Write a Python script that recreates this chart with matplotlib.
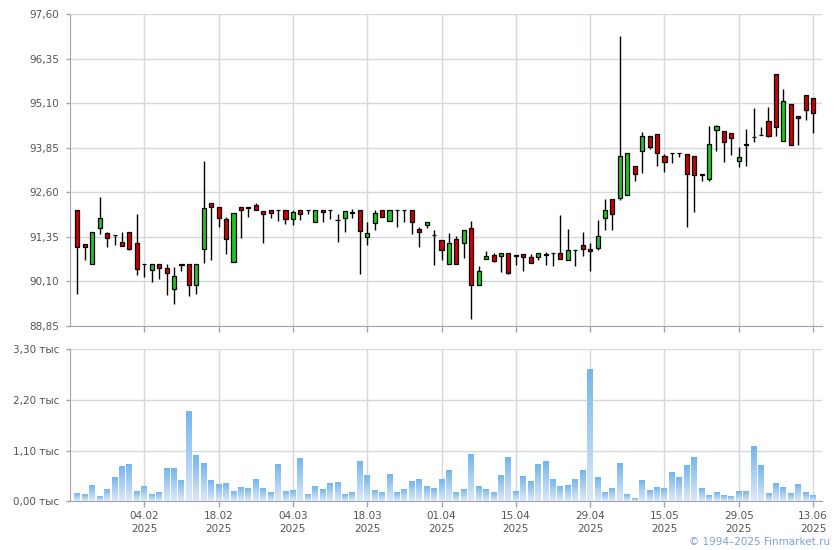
import numpy as np
import matplotlib
matplotlib.use('Agg')
import matplotlib.pyplot as plt
from matplotlib.colors import LinearSegmentedColormap

## Datos de las velas (por sesión)
apertura = [92.11, 91.14, 90.60, 91.60, 91.46, 91.41, 91.21, 91.49, 91.18, 90.60,
            90.43, 90.60, 90.49, 89.88, 90.60, 90.60, 90.01, 91.02, 92.30, 92.19,
            91.86, 90.65, 92.19, 92.19, 92.25, 92.08, 92.10, 92.10, 92.10, 91.86,
            92.10, 92.10, 91.77, 92.09, 92.10, 91.83, 91.87, 92.03, 92.09, 91.35,
            91.74, 92.10, 91.80, 92.10, 92.10, 92.10, 91.58, 91.69, 91.41, 91.27,
            90.60, 91.30, 91.18, 91.60, 90.01, 90.74, 90.85, 90.82, 90.90, 90.84,
            90.88, 90.79, 90.78, 90.87, 90.90, 90.90, 90.70, 90.99, 91.11, 91.02,
            91.03, 91.87, 92.42, 92.43, 92.53, 93.34, 93.76, 94.18, 94.23, 93.62,
            93.70, 93.70, 93.68, 93.62, 93.11, 92.98, 94.35, 94.32, 94.26, 93.48,
            93.95, 94.15, 94.21, 94.60, 95.91, 94.04, 95.07, 94.74, 95.33, 95.24]
maximo = [92.11, 91.14, 91.49, 92.47, 91.50, 91.41, 91.49, 91.49, 92.00, 90.60,
          90.60, 90.60, 90.60, 90.51, 90.60, 90.60, 90.60, 93.49, 92.30, 92.19,
          91.92, 92.02, 92.19, 92.19, 92.31, 92.08, 92.10, 92.10, 92.10, 92.10,
          92.10, 92.10, 92.10, 92.10, 92.10, 92.00, 92.08, 92.12, 92.10, 91.77,
          92.10, 92.10, 92.10, 92.10, 92.10, 92.10, 91.63, 91.77, 91.55, 91.27,
          91.47, 91.38, 91.55, 91.80, 90.54, 90.94, 90.90, 90.90, 90.90, 90.85,
          90.88, 90.86, 90.90, 90.93, 90.90, 91.95, 91.58, 90.99, 91.50, 91.18,
          91.81, 92.42, 92.42, 96.99, 93.70, 93.34, 94.30, 94.18, 94.23, 93.68,
          93.70, 93.70, 93.68, 93.62, 93.11, 94.47, 94.49, 94.32, 94.26, 93.88,
          94.37, 94.96, 94.43, 94.99, 95.91, 95.49, 95.07, 94.74, 95.33, 95.24]
minimo = [89.76, 90.69, 90.60, 91.42, 91.06, 91.12, 91.09, 90.97, 90.28, 90.22,
          90.08, 90.16, 89.73, 89.46, 90.39, 89.70, 89.76, 90.62, 90.71, 91.62,
          90.88, 90.65, 91.32, 91.90, 92.10, 91.17, 91.87, 91.79, 91.70, 91.68,
          91.82, 91.98, 91.77, 91.77, 91.86, 91.20, 91.48, 91.89, 90.30, 91.12,
          91.54, 91.91, 91.80, 91.63, 91.77, 91.44, 91.07, 91.60, 90.55, 90.70,
          90.60, 90.60, 90.75, 89.06, 90.01, 90.74, 90.64, 90.37, 90.32, 90.56,
          90.39, 90.62, 90.70, 90.56, 90.53, 90.72, 90.70, 90.53, 90.81, 90.40,
          90.98, 91.54, 91.54, 92.38, 92.53, 92.91, 93.14, 93.82, 93.33, 93.16,
          93.41, 93.58, 91.62, 92.04, 92.91, 92.91, 93.76, 93.45, 93.65, 93.31,
          93.34, 94.01, 94.20, 94.15, 94.18, 94.04, 93.93, 93.92, 94.64, 94.25]
cierre = [91.07, 91.07, 91.49, 91.89, 91.32, 91.40, 91.09, 91.00, 90.46, 90.59,
          90.60, 90.48, 90.34, 90.26, 90.57, 90.01, 90.60, 92.16, 92.19, 91.88,
          91.28, 92.02, 92.10, 92.17, 92.10, 91.98, 92.01, 92.09, 91.86, 92.05,
          91.98, 92.09, 92.10, 92.05, 92.09, 91.82, 92.08, 92.06, 91.51, 91.47,
          92.02, 91.91, 92.10, 92.09, 92.09, 91.77, 91.49, 91.77, 91.39, 90.98,
          91.19, 90.60, 91.55, 90.01, 90.40, 90.82, 90.67, 90.90, 90.34, 90.82,
          90.78, 90.62, 90.90, 90.85, 90.89, 90.72, 90.99, 90.98, 91.00, 90.95,
          91.38, 92.09, 92.00, 93.62, 93.70, 93.12, 94.18, 93.86, 93.70, 93.45,
          93.69, 93.69, 93.12, 93.09, 93.09, 93.95, 94.46, 94.01, 94.12, 93.59,
          93.94, 94.14, 94.20, 94.18, 94.43, 95.16, 93.93, 94.68, 94.91, 94.82]

## Volumen en miles
volumen = [0.16, 0.14, 0.33, 0.09, 0.25, 0.51, 0.75, 0.79, 0.20, 0.31,
           0.14, 0.18, 0.70, 0.70, 0.44, 1.94, 0.98, 0.81, 0.44, 0.35,
           0.38, 0.20, 0.29, 0.27, 0.46, 0.27, 0.18, 0.79, 0.20, 0.22,
           0.92, 0.14, 0.31, 0.25, 0.38, 0.40, 0.14, 0.18, 0.85, 0.55,
           0.22, 0.18, 0.57, 0.18, 0.25, 0.42, 0.46, 0.31, 0.27, 0.46,
           0.66, 0.18, 0.25, 1.01, 0.31, 0.25, 0.18, 0.55, 0.94, 0.20,
           0.53, 0.42, 0.79, 0.85, 0.46, 0.31, 0.33, 0.46, 0.66, 2.85,
           0.51, 0.18, 0.27, 0.81, 0.14, 0.06, 0.44, 0.22, 0.29, 0.27,
           0.62, 0.51, 0.77, 0.94, 0.27, 0.12, 0.18, 0.12, 0.09, 0.20,
           0.20, 1.18, 0.77, 0.16, 0.38, 0.29, 0.16, 0.35, 0.18, 0.12]

## Fechas marcadas en el eje (cada 10 sesiones)
sesion_fechas = [9, 19, 29, 39, 49, 59, 69, 79, 89, 99]
fechas = ['04.02', '18.02', '04.03', '18.03', '01.04',
          '15.04', '29.04', '15.05', '29.05', '13.06']
anio = '2025'

precios_eje = np.linspace(88.85, 97.60, 8)
vol_eje = [0.0, 1.1, 2.2, 3.3]

gris_grid = '#d3d8dc'
gris_eje = '#a3a3b5'
gris_txt = '#555555'

fig = plt.figure(figsize=(8.4, 5.5), dpi=100)
ax1 = fig.add_axes([70/840, 1-326/550, 752/840, 312/550])
ax2 = fig.add_axes([70/840, 1-501.3/550, 752/840, 152/550])

x = np.arange(len(cierre))
o = np.array(apertura)
c = np.array(cierre)

## Velas: mechas y cuerpos
ax1.vlines(x, minimo, maximo, color='k', lw=1, zorder=2)
colores = np.where(c >= o, '#1ec81e', '#d40000')
alto = np.maximum(np.abs(c - o), 0.004)
ax1.bar(x, alto, bottom=np.minimum(o, c), width=0.55, color=colores,
        edgecolor='k', linewidth=0.9, zorder=3)

ax1.set_xlim(-1.0, 100.2)
ax1.set_ylim(88.85, 97.60)
ax1.set_yticks(precios_eje)
ax1.set_yticklabels([f'{v:.2f}'.replace('.', ',') for v in precios_eje])
ax1.set_xticks(sesion_fechas)
ax1.set_xticklabels([])

## Volumen con degradado
cmap = LinearSegmentedColormap.from_list('vol', ['#dde9f8', '#74b6ee'])
grad = np.linspace(0, 1, 64).reshape(-1, 1)
for i, v in enumerate(volumen):
    ax2.imshow(grad, extent=[i - 0.4, i + 0.4, 0, v], aspect='auto',
               cmap=cmap, origin='lower', zorder=2)

ax2.set_xlim(-1.0, 100.2)
ax2.set_ylim(0, 3.30)
ax2.set_yticks(vol_eje)
ax2.set_yticklabels([f'{v:.2f}'.replace('.', ',') + ' тыс' for v in vol_eje])
ax2.set_xticks(sesion_fechas)
ax2.set_xticklabels([f + '\n' + anio for f in fechas], linespacing=1.35)

for ax in (ax1, ax2):
    ax.grid(True, color=gris_grid, lw=1)
    ax.set_axisbelow(True)
    ax.spines['top'].set_visible(False)
    ax.spines['right'].set_visible(False)
    ax.spines['left'].set_color(gris_eje)
    ax.spines['bottom'].set_color(gris_eje)
    ax.tick_params(axis='both', length=3, width=1, color=gris_eje,
                   labelsize=7.5, labelcolor=gris_txt, pad=5)
ax2.tick_params(axis='x', length=4, pad=3)
ax1.tick_params(axis='x', length=4)

fig.text(830/840, 1-542/550, '© 1994–2025 Finmarket.ru', ha='right',
         va='center', color='#7f9fe0', fontsize=7.5)

fig.savefig('out.png', dpi=100)
